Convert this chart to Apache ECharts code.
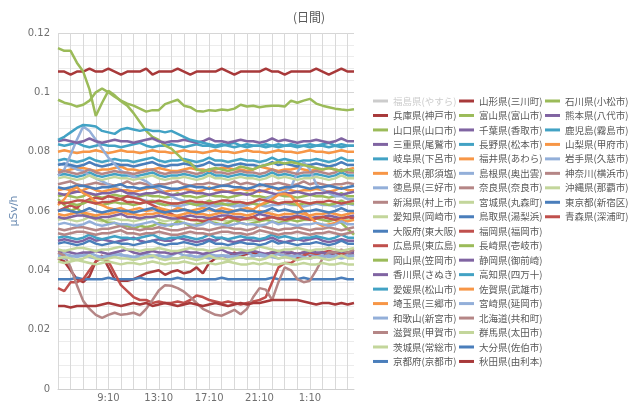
<!DOCTYPE html>
<html><head><meta charset="utf-8">
<script src="https://cdn.jsdelivr.net/npm/echarts@6/dist/echarts.min.js"></script>
<style>html,body{margin:0;padding:0;background:#fff}#c{width:640px;height:403px}</style>
</head><body><div id="c"></div>
<script>
const times = ['5:10','5:40','6:10','6:40','7:10','7:40','8:10','8:40','9:10','9:40','10:10','10:40',
 '11:10','11:40','12:10','12:40','13:10','13:40','14:10','14:40','15:10','15:40','16:10','16:40',
 '17:10','17:40','18:10','18:40','19:10','19:40','20:10','20:40','21:10','21:40','22:10','22:40',
 '23:10','23:40','0:10','0:40','1:10','1:40','2:10','2:40','3:10','3:40','4:10','4:40'];

const fukushima = [0.090,0.091,0.090,0.089,0.090,0.091,0.090,0.090,0.089,0.090,0.091,0.090,
 0.090,0.089,0.090,0.091,0.090,0.090,0.089,0.090,0.091,0.090,0.090,0.089,
 0.090,0.091,0.090,0.090,0.089,0.090,0.091,0.090,0.090,0.089,0.090,0.091,
 0.090,0.090,0.089,0.090,0.091,0.090,0.090,0.089,0.090,0.091,0.090,0.090];
const hyogo = [0.044,0.043,0.040,0.037,0.036,0.038,0.043,0.045,0.041,0.037,0.0365,0.0365,
 0.037,0.038,0.039,0.0395,0.040,0.0385,0.0395,0.040,0.039,0.0395,0.041,0.039,
 0.0425,0.044,0.045,0.0445,0.046,0.045,0.0455,0.046,0.045,0.0455,0.046,0.0455,
 0.045,0.046,0.0455,0.046,0.045,0.0455,0.046,0.045,0.0455,0.046,0.045,0.0455];
const yamaguchi = [0.0975,0.0965,0.096,0.0952,0.0958,0.0972,0.100,0.1013,0.100,0.0985,0.0972,0.0962,
 0.0955,0.0945,0.0935,0.094,0.094,0.096,0.0968,0.0975,0.0955,0.095,0.0937,0.0935,
 0.094,0.0938,0.0942,0.094,0.0945,0.0958,0.0952,0.0955,0.095,0.0953,0.0955,0.0955,
 0.0952,0.0972,0.0965,0.0972,0.0978,0.0962,0.0955,0.095,0.0945,0.0942,0.094,0.0943];
const mie = [0.050,0.0505,0.050,0.0495,0.050,0.051,0.050,0.0505,0.050,0.0495,0.050,0.0505,
 0.051,0.050,0.0495,0.050,0.0505,0.050,0.050,0.051,0.0505,0.050,0.0495,0.050,
 0.0505,0.050,0.051,0.050,0.0495,0.050,0.0505,0.050,0.050,0.0505,0.051,0.050,
 0.0495,0.050,0.0505,0.050,0.0505,0.051,0.050,0.0495,0.050,0.0505,0.050,0.050];
const gifu = [0.077,0.0775,0.077,0.0765,0.077,0.078,0.077,0.0765,0.077,0.0775,0.077,0.077,
 0.0765,0.077,0.0775,0.078,0.077,0.0765,0.077,0.077,0.0775,0.077,0.0765,0.077,
 0.078,0.077,0.077,0.0765,0.077,0.0775,0.077,0.077,0.0765,0.077,0.078,0.077,
 0.0775,0.077,0.0765,0.077,0.077,0.0775,0.077,0.0765,0.077,0.078,0.077,0.077];
const tochigi = [0.080,0.0805,0.080,0.0795,0.080,0.080,0.0805,0.080,0.0795,0.080,0.0805,0.080,
 0.080,0.0795,0.080,0.0805,0.080,0.080,0.0795,0.080,0.0805,0.080,0.080,0.0795,
 0.080,0.0805,0.080,0.080,0.0795,0.080,0.0805,0.080,0.080,0.0795,0.080,0.0805,
 0.080,0.080,0.0795,0.080,0.0805,0.080,0.080,0.0795,0.080,0.0805,0.080,0.080];
const tokushima = [0.045,0.0455,0.045,0.0445,0.045,0.046,0.045,0.0445,0.045,0.0455,0.045,0.045,
 0.0445,0.045,0.0455,0.045,0.045,0.0445,0.045,0.046,0.045,0.045,0.0445,0.045,
 0.0455,0.045,0.045,0.0445,0.045,0.0455,0.046,0.045,0.045,0.0445,0.045,0.0455,
 0.045,0.045,0.0445,0.045,0.0455,0.045,0.045,0.0445,0.045,0.046,0.045,0.045];
const niigata = [0.069,0.0695,0.070,0.069,0.0685,0.069,0.0695,0.069,0.069,0.0685,0.069,0.070,
 0.069,0.0695,0.069,0.0685,0.069,0.069,0.0695,0.070,0.069,0.0685,0.069,0.069,
 0.0695,0.069,0.0685,0.069,0.070,0.069,0.0695,0.069,0.0685,0.069,0.069,0.0695,
 0.069,0.0685,0.069,0.070,0.069,0.0695,0.069,0.0685,0.069,0.069,0.0695,0.069];
const aichi = [0.057,0.0575,0.057,0.0565,0.057,0.058,0.057,0.0565,0.057,0.0575,0.057,0.057,
 0.0565,0.057,0.0575,0.058,0.057,0.0565,0.057,0.057,0.0575,0.057,0.0565,0.057,
 0.058,0.057,0.057,0.0565,0.057,0.0575,0.057,0.057,0.0565,0.057,0.058,0.057,
 0.0575,0.057,0.0565,0.057,0.057,0.0575,0.057,0.0565,0.057,0.058,0.057,0.057];
const osaka = [0.037,0.037,0.037,0.0375,0.037,0.037,0.037,0.037,0.0375,0.037,0.037,0.037,
 0.037,0.0375,0.037,0.037,0.037,0.037,0.037,0.0375,0.037,0.037,0.037,0.037,
 0.037,0.037,0.0375,0.037,0.037,0.037,0.037,0.037,0.037,0.037,0.0375,0.037,
 0.037,0.037,0.037,0.0375,0.037,0.037,0.037,0.037,0.037,0.0375,0.037,0.037];
const hiroshima = [0.034,0.033,0.036,0.036,0.037,0.040,0.043,0.044,0.043,0.039,0.035,0.033,
 0.031,0.030,0.030,0.029,0.0295,0.029,0.029,0.0295,0.029,0.030,0.0315,0.031,
 0.030,0.0295,0.029,0.0295,0.029,0.0285,0.029,0.0295,0.030,0.031,0.036,0.041,
 0.0425,0.0425,0.044,0.045,0.046,0.0455,0.046,0.0465,0.046,0.0455,0.046,0.0465];
const okayama = [0.065,0.0655,0.065,0.0645,0.065,0.066,0.065,0.0645,0.065,0.0655,0.065,0.065,
 0.0645,0.065,0.0655,0.065,0.065,0.0645,0.065,0.066,0.065,0.065,0.0645,0.065,
 0.0655,0.065,0.065,0.0645,0.065,0.0655,0.066,0.065,0.065,0.0645,0.065,0.0655,
 0.065,0.065,0.0645,0.065,0.0655,0.065,0.065,0.0645,0.065,0.066,0.065,0.065];
const kagawa = [0.046,0.0465,0.046,0.0455,0.046,0.046,0.0465,0.046,0.0455,0.046,0.0465,0.047,
 0.046,0.0455,0.046,0.0465,0.046,0.046,0.0455,0.046,0.0465,0.046,0.046,0.0455,
 0.046,0.0465,0.047,0.046,0.0455,0.046,0.046,0.0465,0.046,0.0455,0.046,0.0465,
 0.046,0.046,0.0455,0.046,0.0465,0.046,0.046,0.0455,0.046,0.0465,0.046,0.046];
const ehime = [0.072,0.0725,0.072,0.0715,0.072,0.073,0.072,0.0715,0.072,0.0725,0.072,0.072,
 0.0715,0.072,0.0725,0.073,0.072,0.0715,0.072,0.072,0.0725,0.072,0.0715,0.072,
 0.073,0.072,0.072,0.0715,0.072,0.0725,0.072,0.072,0.0715,0.072,0.073,0.072,
 0.0725,0.072,0.0715,0.072,0.072,0.0725,0.072,0.0715,0.072,0.073,0.072,0.072];
const saitama = [0.074,0.0735,0.074,0.0745,0.0745,0.074,0.0735,0.074,0.074,0.0745,0.075,0.074,
 0.074,0.0735,0.074,0.074,0.0745,0.074,0.0735,0.0735,0.074,0.0745,0.074,0.074,
 0.0735,0.074,0.0745,0.0745,0.074,0.074,0.0735,0.074,0.075,0.0745,0.074,0.0735,
 0.074,0.074,0.0745,0.074,0.0735,0.074,0.074,0.0745,0.074,0.0735,0.074,0.0745];
const wakayama = [0.076,0.0755,0.075,0.074,0.0735,0.072,0.071,0.070,0.069,0.068,0.067,0.066,
 0.065,0.064,0.0635,0.063,0.0625,0.062,0.062,0.0615,0.062,0.0625,0.062,0.0615,
 0.062,0.062,0.0625,0.062,0.0615,0.062,0.062,0.0625,0.062,0.0615,0.062,0.062,
 0.0625,0.062,0.062,0.0615,0.062,0.0625,0.062,0.062,0.0615,0.062,0.0625,0.062];
const shiga = [0.046,0.045,0.041,0.035,0.0297,0.027,0.025,0.024,0.025,0.0257,0.025,0.0253,
 0.0257,0.0248,0.027,0.030,0.0332,0.035,0.0348,0.034,0.0328,0.031,0.029,0.027,
 0.026,0.025,0.0247,0.0257,0.0267,0.0252,0.027,0.031,0.034,0.0335,0.030,0.036,
 0.041,0.040,0.037,0.036,0.0365,0.040,0.044,0.046,0.046,0.047,0.046,0.047];
const ibaraki = [0.043,0.0425,0.043,0.0435,0.043,0.0425,0.042,0.0425,0.043,0.0425,0.042,0.0425,
 0.0425,0.042,0.0425,0.043,0.0425,0.042,0.0425,0.0425,0.043,0.0425,0.042,0.0425,
 0.0425,0.042,0.0425,0.043,0.0425,0.042,0.042,0.0425,0.042,0.0425,0.042,0.042,
 0.0425,0.042,0.042,0.0425,0.042,0.042,0.0425,0.042,0.042,0.0425,0.042,0.042];
const kyoto = [0.0755,0.076,0.0755,0.075,0.0755,0.0765,0.0755,0.075,0.0755,0.076,0.0755,0.0755,
 0.075,0.0755,0.076,0.0765,0.0755,0.075,0.0755,0.0755,0.076,0.0755,0.075,0.0755,
 0.0765,0.0755,0.0755,0.075,0.0755,0.076,0.0755,0.0755,0.075,0.0755,0.0765,0.0755,
 0.076,0.0755,0.075,0.0755,0.0755,0.076,0.0755,0.075,0.0755,0.0765,0.0755,0.0755];
const yamagata = [0.107,0.107,0.106,0.107,0.107,0.108,0.107,0.107,0.108,0.107,0.106,0.107,
 0.107,0.107,0.108,0.106,0.107,0.107,0.107,0.108,0.107,0.106,0.107,0.107,
 0.107,0.107,0.108,0.107,0.106,0.107,0.107,0.107,0.107,0.108,0.107,0.107,
 0.106,0.107,0.107,0.107,0.107,0.108,0.107,0.106,0.107,0.108,0.107,0.107];
const toyama = [0.064,0.062,0.060,0.061,0.059,0.058,0.058,0.057,0.056,0.056,0.055,0.055,
 0.054,0.055,0.0545,0.055,0.056,0.0555,0.055,0.0565,0.056,0.055,0.0555,0.056,
 0.0565,0.056,0.0555,0.056,0.057,0.056,0.0555,0.056,0.0565,0.057,0.0565,0.056,
 0.0565,0.057,0.0565,0.057,0.0575,0.0575,0.057,0.0565,0.0575,0.056,0.054,0.052];
const chiba = [0.058,0.0575,0.058,0.0585,0.0585,0.058,0.0575,0.058,0.058,0.0585,0.059,0.058,
 0.058,0.0575,0.058,0.058,0.0585,0.058,0.0575,0.0575,0.058,0.0585,0.058,0.058,
 0.0575,0.058,0.0585,0.0585,0.058,0.058,0.0575,0.058,0.059,0.0585,0.058,0.0575,
 0.058,0.058,0.0585,0.058,0.0575,0.058,0.058,0.0585,0.058,0.0575,0.058,0.0585];
const nagano = [0.0825,0.082,0.0825,0.083,0.082,0.0815,0.082,0.0825,0.082,0.082,0.0815,0.082,
 0.0825,0.083,0.082,0.0815,0.082,0.082,0.0825,0.082,0.0815,0.082,0.0825,0.082,
 0.082,0.0815,0.082,0.0825,0.083,0.082,0.0815,0.082,0.082,0.0825,0.082,0.0815,
 0.082,0.0825,0.082,0.082,0.0815,0.082,0.0825,0.083,0.082,0.0815,0.082,0.082];
const fukui = [0.067,0.0675,0.067,0.0665,0.067,0.068,0.067,0.0665,0.067,0.0675,0.067,0.067,
 0.0665,0.067,0.0675,0.068,0.067,0.0665,0.067,0.067,0.0675,0.067,0.0665,0.067,
 0.068,0.067,0.067,0.0665,0.067,0.0675,0.067,0.067,0.0665,0.067,0.068,0.067,
 0.0675,0.067,0.0665,0.067,0.067,0.0675,0.067,0.0665,0.067,0.068,0.067,0.067];
const shimane = [0.072,0.074,0.079,0.084,0.0885,0.087,0.084,0.081,0.078,0.0758,0.0735,0.0725,
 0.0715,0.071,0.070,0.0685,0.0675,0.066,0.065,0.064,0.0635,0.063,0.0625,0.062,
 0.062,0.0615,0.062,0.0625,0.062,0.0615,0.062,0.063,0.0635,0.064,0.065,0.066,
 0.0665,0.068,0.073,0.0765,0.074,0.069,0.067,0.066,0.065,0.065,0.064,0.064];
const nara = [0.054,0.0535,0.054,0.0545,0.0545,0.054,0.0535,0.054,0.054,0.0545,0.055,0.054,
 0.054,0.0535,0.054,0.054,0.0545,0.054,0.0535,0.0535,0.054,0.0545,0.054,0.054,
 0.0535,0.054,0.0545,0.0545,0.054,0.054,0.0535,0.054,0.055,0.0545,0.054,0.0535,
 0.054,0.054,0.0545,0.054,0.0535,0.054,0.054,0.0545,0.054,0.0535,0.054,0.0545];
const miyagi = [0.071,0.0715,0.071,0.0705,0.071,0.072,0.071,0.0705,0.071,0.0715,0.071,0.071,
 0.0705,0.071,0.0715,0.072,0.071,0.0705,0.071,0.071,0.0715,0.071,0.0705,0.071,
 0.072,0.071,0.071,0.0705,0.071,0.0715,0.071,0.071,0.0705,0.071,0.072,0.071,
 0.0715,0.071,0.0705,0.071,0.071,0.0715,0.071,0.0705,0.071,0.072,0.071,0.071];
const tottori = [0.068,0.0675,0.068,0.0685,0.0685,0.068,0.0675,0.068,0.068,0.0685,0.069,0.068,
 0.068,0.0675,0.068,0.068,0.0685,0.068,0.0675,0.0675,0.068,0.0685,0.068,0.068,
 0.0675,0.068,0.0685,0.0685,0.068,0.068,0.0675,0.068,0.069,0.0685,0.068,0.0675,
 0.068,0.068,0.0685,0.068,0.0675,0.068,0.068,0.0685,0.068,0.0675,0.068,0.0685];
const fukuoka = [0.060,0.061,0.062,0.061,0.063,0.064,0.0645,0.064,0.065,0.0645,0.064,0.065,
 0.0645,0.064,0.063,0.062,0.061,0.060,0.059,0.058,0.0575,0.057,0.057,0.0565,
 0.057,0.0575,0.057,0.058,0.0575,0.057,0.0575,0.058,0.057,0.0575,0.058,0.0575,
 0.057,0.0575,0.058,0.0575,0.057,0.0575,0.058,0.0575,0.057,0.0575,0.058,0.0575];
const nagasaki = [0.0625,0.063,0.0625,0.062,0.0625,0.0635,0.0625,0.062,0.0625,0.063,0.0625,0.0625,
 0.062,0.0625,0.063,0.0635,0.0625,0.062,0.0625,0.0625,0.063,0.0625,0.062,0.0625,
 0.0635,0.0625,0.0625,0.062,0.0625,0.063,0.0625,0.0625,0.062,0.0625,0.0635,0.0625,
 0.063,0.0625,0.062,0.0625,0.0625,0.063,0.0625,0.062,0.0625,0.0635,0.0625,0.0625];
const shizuoka = [0.066,0.0655,0.066,0.0665,0.0665,0.066,0.0655,0.066,0.066,0.0665,0.067,0.066,
 0.066,0.0655,0.066,0.066,0.0665,0.066,0.0655,0.0655,0.066,0.0665,0.066,0.066,
 0.0655,0.066,0.0665,0.0665,0.066,0.066,0.0655,0.066,0.067,0.0665,0.066,0.0655,
 0.066,0.066,0.0665,0.066,0.0655,0.066,0.066,0.0665,0.066,0.0655,0.066,0.0665];
const kochi = [0.051,0.0515,0.051,0.0505,0.051,0.052,0.051,0.0505,0.051,0.0515,0.051,0.051,
 0.0505,0.051,0.0515,0.052,0.051,0.0505,0.051,0.051,0.0515,0.051,0.0505,0.051,
 0.052,0.051,0.051,0.0505,0.051,0.0515,0.051,0.051,0.0505,0.051,0.052,0.051,
 0.0515,0.051,0.0505,0.051,0.051,0.0515,0.051,0.0505,0.051,0.052,0.051,0.051];
const saga = [0.062,0.064,0.067,0.068,0.066,0.065,0.063,0.062,0.061,0.0605,0.061,0.060,
 0.0605,0.061,0.060,0.0605,0.061,0.0605,0.060,0.061,0.0605,0.060,0.0605,0.061,
 0.0605,0.060,0.061,0.0605,0.060,0.0605,0.061,0.0605,0.062,0.063,0.064,0.0655,
 0.0658,0.065,0.0625,0.060,0.058,0.056,0.055,0.0555,0.056,0.057,0.0565,0.057];
const miyazaki = [0.0445,0.044,0.0445,0.045,0.045,0.0445,0.044,0.0445,0.0445,0.045,0.0455,0.0445,
 0.0445,0.044,0.0445,0.0445,0.045,0.0445,0.044,0.044,0.0445,0.045,0.0445,0.0445,
 0.044,0.0445,0.045,0.045,0.0445,0.0445,0.044,0.0445,0.0455,0.045,0.0445,0.044,
 0.0445,0.0445,0.045,0.0445,0.044,0.0445,0.0445,0.045,0.0445,0.044,0.0445,0.045];
const hokkaido = [0.073,0.0735,0.073,0.0725,0.073,0.074,0.073,0.0725,0.073,0.0735,0.073,0.073,
 0.0725,0.073,0.0735,0.074,0.073,0.0725,0.073,0.073,0.0735,0.073,0.0725,0.073,
 0.074,0.073,0.073,0.0725,0.073,0.0735,0.073,0.073,0.0725,0.073,0.074,0.073,
 0.0735,0.073,0.0725,0.073,0.073,0.0735,0.073,0.0725,0.073,0.074,0.073,0.073];
const gunma = [0.047,0.0465,0.047,0.0475,0.0475,0.047,0.0465,0.047,0.047,0.0475,0.048,0.047,
 0.047,0.0465,0.047,0.047,0.0475,0.047,0.0465,0.0465,0.047,0.0475,0.047,0.047,
 0.0465,0.047,0.0475,0.0475,0.047,0.047,0.0465,0.047,0.048,0.0475,0.047,0.0465,
 0.047,0.047,0.0475,0.047,0.0465,0.047,0.047,0.0475,0.047,0.0465,0.047,0.0475];
const oita = [0.049,0.0495,0.049,0.0485,0.049,0.050,0.049,0.0485,0.049,0.0495,0.049,0.049,
 0.0485,0.049,0.0495,0.050,0.049,0.0485,0.049,0.049,0.0495,0.049,0.0485,0.049,
 0.050,0.049,0.049,0.0485,0.049,0.0495,0.049,0.049,0.0485,0.049,0.050,0.049,
 0.0495,0.049,0.0485,0.049,0.049,0.0495,0.049,0.0485,0.049,0.050,0.049,0.049];
const akita = [0.028,0.028,0.0275,0.028,0.028,0.028,0.028,0.0285,0.029,0.0285,0.028,0.0285,
 0.029,0.0285,0.029,0.028,0.0285,0.029,0.0285,0.028,0.0285,0.029,0.0285,0.028,
 0.0285,0.029,0.0285,0.028,0.0285,0.029,0.0285,0.029,0.029,0.0295,0.030,0.030,
 0.030,0.030,0.030,0.0295,0.029,0.0285,0.029,0.029,0.0285,0.029,0.0285,0.029];
const ishikawa = [0.1149,0.114,0.114,0.110,0.107,0.101,0.092,0.0965,0.1005,0.099,0.097,0.0955,
 0.093,0.090,0.087,0.085,0.084,0.082,0.081,0.079,0.077,0.0762,0.074,0.0735,
 0.074,0.0745,0.074,0.0735,0.074,0.075,0.0745,0.074,0.075,0.0755,0.076,0.0765,
 0.076,0.0765,0.076,0.0755,0.075,0.0745,0.074,0.0745,0.074,0.0735,0.074,0.0735];
const kumamoto = [0.0835,0.084,0.0835,0.083,0.0835,0.0845,0.0835,0.083,0.0835,0.084,0.0835,0.0835,
 0.083,0.0835,0.084,0.0845,0.0835,0.083,0.0835,0.0835,0.084,0.0835,0.083,0.0835,
 0.0845,0.0835,0.0835,0.083,0.0835,0.084,0.0835,0.0835,0.083,0.0835,0.0845,0.0835,
 0.084,0.0835,0.083,0.0835,0.0835,0.084,0.0835,0.083,0.0835,0.0845,0.0835,0.0835];
const kagoshima = [0.084,0.085,0.0865,0.088,0.089,0.0888,0.0885,0.087,0.0865,0.086,0.0875,0.088,
 0.0875,0.087,0.0875,0.087,0.087,0.0865,0.087,0.086,0.085,0.084,0.0835,0.083,
 0.0825,0.082,0.0825,0.082,0.0815,0.082,0.0825,0.082,0.082,0.0815,0.082,0.0825,
 0.082,0.082,0.0815,0.082,0.0825,0.082,0.082,0.0815,0.082,0.0825,0.082,0.082];
const yamanashi = [0.059,0.0585,0.059,0.0595,0.0595,0.059,0.0585,0.059,0.059,0.0595,0.060,0.059,
 0.059,0.0585,0.059,0.059,0.0595,0.059,0.0585,0.0585,0.059,0.0595,0.059,0.059,
 0.0585,0.059,0.0595,0.0595,0.059,0.059,0.0585,0.059,0.060,0.0595,0.059,0.0585,
 0.059,0.059,0.0595,0.059,0.0585,0.059,0.059,0.0595,0.059,0.0585,0.059,0.0595];
const iwate = [0.0555,0.056,0.0555,0.055,0.0555,0.0565,0.0555,0.055,0.0555,0.056,0.0555,0.0555,
 0.055,0.0555,0.056,0.0565,0.0555,0.055,0.0555,0.0555,0.056,0.0555,0.055,0.0555,
 0.0565,0.0555,0.0555,0.055,0.0555,0.056,0.0555,0.0555,0.055,0.0555,0.0565,0.0555,
 0.056,0.0555,0.055,0.0555,0.0555,0.056,0.0555,0.055,0.0555,0.0565,0.0555,0.0555];
const kanagawa = [0.0525,0.052,0.0525,0.053,0.053,0.0525,0.052,0.0525,0.0525,0.053,0.0535,0.0525,
 0.0525,0.052,0.0525,0.0525,0.053,0.0525,0.052,0.052,0.0525,0.053,0.0525,0.0525,
 0.052,0.0525,0.053,0.053,0.0525,0.0525,0.052,0.0525,0.0535,0.053,0.0525,0.052,
 0.0525,0.0525,0.053,0.0525,0.052,0.0525,0.0525,0.053,0.0525,0.052,0.0525,0.053];
const okinawa = [0.044,0.0445,0.044,0.0435,0.044,0.045,0.044,0.0435,0.044,0.0445,0.044,0.044,
 0.0435,0.044,0.0445,0.045,0.044,0.0435,0.044,0.044,0.0445,0.044,0.0435,0.044,
 0.045,0.044,0.044,0.0435,0.044,0.0445,0.044,0.044,0.0435,0.044,0.045,0.044,
 0.0445,0.044,0.0435,0.044,0.044,0.0445,0.044,0.0435,0.044,0.045,0.044,0.044];
const tokyo = [0.060,0.0605,0.060,0.0595,0.060,0.061,0.060,0.0595,0.060,0.0605,0.060,0.060,
 0.0595,0.060,0.0605,0.061,0.060,0.0595,0.060,0.060,0.0605,0.060,0.0595,0.060,
 0.061,0.060,0.060,0.0595,0.060,0.0605,0.060,0.060,0.0595,0.060,0.061,0.060,
 0.0605,0.060,0.0595,0.060,0.060,0.0605,0.060,0.0595,0.060,0.061,0.060,0.060];
const aomori = [0.063,0.0625,0.063,0.0635,0.0635,0.063,0.0625,0.063,0.063,0.0635,0.064,0.063,
 0.063,0.0625,0.063,0.063,0.0635,0.063,0.0625,0.0625,0.063,0.0635,0.063,0.063,
 0.0625,0.063,0.0635,0.0635,0.063,0.063,0.0625,0.063,0.064,0.0635,0.063,0.0625,
 0.063,0.063,0.0635,0.063,0.0625,0.063,0.063,0.0635,0.063,0.0625,0.063,0.0635];

const seriesNames = [
 '福島県(やすら)','兵庫県(神戸市)','山口県(山口市)','三重県(尾鷲市)','岐阜県(下呂市)','栃木県(那須塩)',
 '徳島県(三好市)','新潟県(村上市)','愛知県(岡崎市)','大阪府(東大阪)','広島県(東広島)','岡山県(笠岡市)',
 '香川県(さぬき)','愛媛県(松山市)','埼玉県(三郷市)','和歌山(新宮市)','滋賀県(甲賀市)','茨城県(常総市)','京都府(京都市)',
 '山形県(三川町)','富山県(富山市)','千葉県(香取市)','長野県(松本市)','福井県(あわら)','島根県(奥出雲)',
 '奈良県(奈良市)','宮城県(丸森町)','鳥取県(湯梨浜)','福岡県(福岡市)','長崎県(壱岐市)','静岡県(御前崎)',
 '高知県(四万十)','佐賀県(武雄市)','宮崎県(延岡市)','北海道(共和町)','群馬県(太田市)','大分県(佐伯市)','秋田県(由利本)',
 '石川県(小松市)','熊本県(八代市)','鹿児島(霧島市)','山梨県(甲府市)','岩手県(久慈市)','神奈川(横浜市)',
 '沖縄県(那覇市)','東京都(新宿区)','青森県(深浦町)'];
const seriesValues = [fukushima,hyogo,yamaguchi,mie,gifu,tochigi,tokushima,niigata,aichi,osaka,hiroshima,okayama,
 kagawa,ehime,saitama,wakayama,shiga,ibaraki,kyoto,
 yamagata,toyama,chiba,nagano,fukui,shimane,nara,miyagi,tottori,fukuoka,nagasaki,shizuoka,
 kochi,saga,miyazaki,hokkaido,gunma,oita,akita,
 ishikawa,kumamoto,kagoshima,yamanashi,iwate,kanagawa,okinawa,tokyo,aomori];

const palette = {
 grey:'#bfbfbf', dred:'#a8393a', red:'#c0504d', olive:'#9bbb59', purple:'#8064a2', teal:'#42a2c4',
 orange:'#f79646', lblue:'#93afd9', rose:'#b58686', lgreen:'#c3d69b', blue:'#4a7ebb'
};
const seriesColors = ['grey','dred','olive','purple','teal','orange','lblue','rose','lgreen','blue',
 'red','olive','purple','teal','orange','lblue','rose','lgreen','blue',
 'dred','olive','purple','teal','orange','lblue','rose','lgreen','blue',
 'red','olive','purple','teal','orange','lblue','rose','lgreen','blue',
 'dred','olive','purple','teal','orange','lblue','rose','lgreen','blue','red'].map(k => palette[k]);

const chart = echarts.init(document.getElementById('c'), null, {renderer:'canvas'});
const legendText = {color:'#595959', fontSize:9.5, fontFamily:'"Noto Sans CJK JP", sans-serif', lineHeight:14};
function mkLegend(names, left, selected) {
  return {
    orient:'vertical', left:left, top:94, itemWidth:15, itemHeight:3, itemGap:0.47,
    icon:'rect', data:names, textStyle:legendText, padding:0, selected: selected || {},
    inactiveColor:'#ccc', selectedMode:true
  };
}
chart.setOption({
  animation:false,
  backgroundColor:'#fff',
  title:{text:'(日間)', left:288, top:6, textStyle:{color:'#595959', fontSize:12, fontWeight:'normal',
    fontFamily:'"Noto Sans CJK JP", sans-serif'}},
  grid:{left:58, right:286, top:33, bottom:11, containLabel:false},
  legend:[
    mkLegend(seriesNames.slice(0,19), 373, {'福島県(やすら)': false}),
    mkLegend(seriesNames.slice(19,38), 459),
    mkLegend(seriesNames.slice(38), 545)
  ],
  xAxis:{
    type:'category', data:times, boundaryGap:false,
    axisLine:{show:true, lineStyle:{color:'#d0d0d0'}},
    axisTick:{show:false},
    axisLabel:{color:'#707070', fontSize:10, margin:4, fontFamily:'"DejaVu Sans", sans-serif',
      interval:(i) => i % 8 === 0 && i > 0},
    splitLine:{show:true, interval:(i) => i % 2 === 0, lineStyle:{color:'#d9d9d9', width:1}}
  },
  yAxis:{
    type:'value', min:0, max:0.12, interval:0.02,
    name:'μSv/h', nameLocation:'middle', nameGap:38, nameRotate:90,
    nameTextStyle:{color:'#6d8db3', fontSize:11, fontFamily:'"DejaVu Sans", sans-serif'},
    axisLine:{show:false}, axisTick:{show:false},
    axisLabel:{color:'#707070', fontSize:10, margin:8, fontFamily:'"DejaVu Sans", sans-serif'},
    splitLine:{lineStyle:{color:'#d6d6d6'}},
    minorTick:{show:false, splitNumber:5},
    minorSplitLine:{show:true, lineStyle:{color:'#ececec'}}
  },
  series: seriesNames.map((n, i) => ({
    name:n, type:'line', data:seriesValues[i], showSymbol:false, symbol:'none',
    lineStyle:{width:2.5, color:seriesColors[i]}, itemStyle:{color:seriesColors[i]},
    emphasis:{disabled:true}
  }))
});
</script></body></html>
